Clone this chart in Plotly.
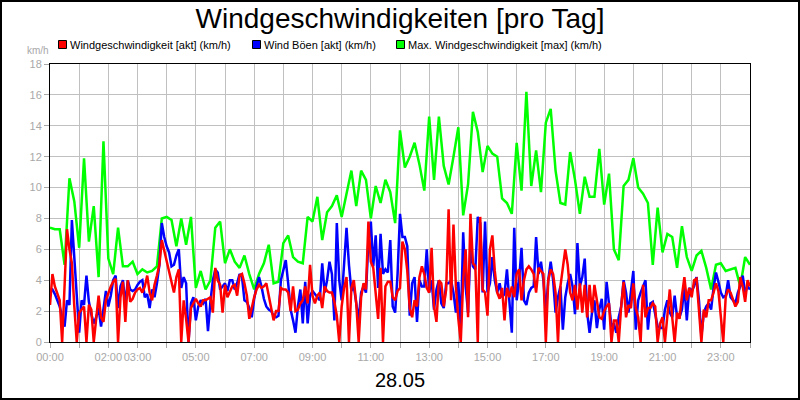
import plotly.graph_objects as go

# ---- data (km/h) ----
# Windgeschwindigkeit [akt], 5-minute values, one row per hour
wind_akt = [
    2.4, 4.4, 3.6, 3.2, 2.7, 0, 3.5, 7.3, 6.0, 5.1, 2.3, 0,
    1.9, 2.1, 2.3, 0, 2.4, 2.1, 0, 1.5, 3.0, 1.6, 1.3, 2.7,
    3.2, 3.6, 3.9, 4.1, 0, 2.9, 3.9, 1.3, 4.0, 2.6, 2.8, 3.2,
    3.4, 3.5, 3.2, 3.6, 4.3, 3.2, 2.7, 3.7, 4.3, 5.0, 6.6, 5.9,
    5.4, 4.7, 4.0, 3.2, 4.2, 4.7, 0, 2.7, 1.5, 0, 2.2, 2.5,
    2.8, 2.5, 2.3, 2.7, 2.7, 2.8, 2.9, 1.9, 4.8, 4.0, 3.7, 1.9,
    3.7, 2.9, 3.3, 3.6, 3.7, 3.0, 4.3, 4.4, 3.8, 3.0, 1.5, 2.3,
    2.9, 3.4, 3.7, 3.5, 3.6, 3.8, 3.0, 2.0, 1.4, 2.0, 2.0, 3.5,
    3.4, 3.4, 3.2, 2.0, 3.6, 2.0, 2.1, 2.5, 2.7, 3.6, 2.5, 5.0,
    3.0, 2.5, 3.0, 3.2, 2.2, 3.6, 3.3, 3.2, 3.2, 2.6, 1.7, 0,
    2.3, 3.5, 4.2, 0, 3.5, 4.0, 2.5, 0, 2.9, 3.8, 3.4, 7.8,
    5.2, 4.8, 3.0, 1.5, 4.8, 0, 3.6, 3.9, 3.9, 2.9, 2.7, 3.3,
    3.5, 6.5, 6.0, 4.6, 2.2, 1.6, 2.7, 2.3, 4.2, 4.9, 4.4, 3.5,
    3.2, 6.1, 2.3, 1.3, 4.0, 3.8, 2.3, 3.4, 8.6, 2.7, 7.6, 3.6,
    1.5, 0, 4.0, 6.0, 1.6, 8.3, 5.1, 4.9, 0, 8.1, 3.4, 3.2,
    1.7, 6.0, 6.9, 4.6, 3.2, 2.8, 3.5, 1.4, 3.5, 2.9, 3.6, 2.9,
    4.4, 4.7, 2.7, 4.0, 4.7, 4.9, 4.7, 4.4, 3.2, 4.8, 4.6, 4.4,
    0, 4.0, 4.7, 4.4, 3.2, 0, 3.6, 4.9, 6.0, 5.0, 3.2, 2.7,
    3.7, 2.1, 3.8, 1.9, 3.7, 1.6, 3.7, 1.9, 3.7, 2.7, 1.6, 1.5,
    2.0, 2.3, 2.5, 0, 1.4, 1.4, 0, 2.3, 3.9, 1.6, 2.4, 2.2,
    3.8, 2.2, 1.6, 0, 3.7, 1.6, 2.2, 2.2, 2.5, 2.3, 0, 1.2,
    1.6, 0, 1.6, 3.4, 1.6, 0, 1.9, 1.5, 3.0, 4.2, 2.7, 3.5,
    2.9, 4.0, 4.1, 2.3, 0, 2.1, 1.6, 2.7, 2.7, 3.2, 3.8, 3.3,
    1.6, 0, 2.9, 3.4, 3.2, 2.7, 2.3, 2.6, 4.2, 3.6, 2.6, 4.0,
    3.6,
]

# Wind Böen [akt], 5-minute values
wind_boeen = [
    3.3, 3.4, 3.1, 2.7, 2.3, 1.6, 1.0, 2.7, 2.4, 7.9, 5.3, 2.5,
    0.6, 2.7, 2.4, 4.3, 2.6, 1.8, 1.2, 1.6, 2.2, 1.0, 2.3, 3.3,
    2.3, 3.0, 4.0, 4.3, 2.2, 3.6, 4.0, 2.4, 4.0, 3.4, 3.3, 3.4,
    3.7, 3.9, 4.0, 2.9, 3.1, 2.2, 3.4, 2.9, 3.8, 5.0, 7.7, 6.8,
    6.2, 5.8, 4.9, 5.0, 5.6, 6.0, 3.5, 4.2, 3.8, 0, 2.5, 2.9,
    1.4, 2.3, 2.7, 2.5, 2.8, 0.7, 2.6, 4.0, 4.7, 4.5, 3.4, 3.6,
    3.8, 3.3, 4.0, 4.0, 3.4, 3.8, 4.4, 4.2, 2.7, 2.6, 2.2, 1.6,
    2.8, 3.6, 4.2, 3.6, 2.8, 2.3, 2.1, 2.0, 1.7, 1.6, 1.7, 4.0,
    4.7, 5.3, 3.8, 2.1, 1.4, 0.6, 2.3, 3.4, 1.2, 3.9, 1.2, 3.0,
    3.3, 3.1, 2.9, 2.7, 5.1, 3.2, 4.0, 5.2, 4.4, 1.4, 7.7, 4.0,
    2.7, 5.0, 7.4, 5.0, 3.3, 3.6, 2.5, 1.4, 3.2, 3.6, 3.2, 6.5,
    7.8, 4.9, 6.9, 3.5, 7.0, 4.4, 4.7, 4.5, 6.6, 2.3, 1.9, 4.4,
    8.3, 6.8, 6.8, 6.2, 1.7, 3.8, 4.2, 1.3, 4.0, 3.6, 3.6, 6.0,
    3.2, 4.0, 2.1, 3.4, 4.0, 2.5, 2.2, 3.8, 3.8, 4.0, 3.2, 1.9,
    3.9, 0.8, 7.1, 3.6, 1.9, 6.2, 4.9, 4.7, 8.1, 7.7, 3.2, 7.8,
    3.2, 3.8, 5.5, 4.0, 3.2, 3.8, 2.9, 3.1, 4.7, 2.7, 0.6, 7.4,
    2.7, 4.0, 6.1, 2.7, 2.4, 3.2, 3.5, 3.6, 6.8, 4.4, 5.2, 4.0,
    1.9, 4.0, 5.2, 4.0, 1.9, 2.9, 3.6, 0.8, 2.9, 3.8, 4.4, 3.6,
    1.8, 6.4, 3.6, 4.2, 5.4, 1.9, 0.6, 1.9, 2.7, 0.9, 2.1, 2.8,
    0.8, 3.9, 2.5, 1.0, 1.2, 0.6, 1.6, 2.3, 4.0, 3.2, 1.9, 3.2,
    4.6, 0.8, 2.7, 3.2, 3.6, 4.0, 0.8, 2.5, 2.6, 1.9, 1.0, 0.9,
    0.9, 2.1, 2.7, 1.9, 1.6, 3.0, 1.6, 1.6, 2.1, 3.6, 1.4, 3.5,
    3.3, 3.6, 4.2, 2.7, 0.4, 1.9, 2.3, 2.5, 2.1, 3.5, 4.5, 3.9,
    3.2, 2.9, 3.0, 4.0, 2.9, 2.7, 2.5, 3.2, 3.6, 4.3, 3.2, 3.6,
    3.4,
]

# Max. Windgeschwindigkeit [max], 10-minute values
wind_max = [
    7.4, 7.3, 7.3, 5.0, 10.6, 9.1,
    6.1, 11.9, 6.5, 8.8, 4.2, 13.0,
    5.4, 4.4, 7.4, 4.9, 4.9, 5.2,
    4.4, 4.7, 4.5, 4.6, 4.9, 8.0,
    8.1, 7.9, 6.2, 8.0, 6.3, 8.1,
    3.5, 4.6, 3.4, 4.0, 7.4, 7.8,
    5.1, 6.0, 5.2, 4.8, 5.6, 4.4,
    3.4, 4.4, 5.1, 6.3, 3.8, 3.9,
    6.4, 6.9, 5.5, 5.2, 5.1, 8.1,
    7.8, 9.4, 6.6, 8.4, 8.8, 9.5,
    8.1, 9.5, 11.1, 8.8, 11.1, 10.5,
    8.0, 10.1, 9.0, 10.5, 9.7, 7.7,
    13.7, 11.3, 12.0, 12.9, 11.5, 9.8,
    14.6, 10.5, 14.6, 11.4, 10.2, 12.0,
    13.9, 8.2, 10.2, 14.9, 13.6, 11.0,
    12.7, 12.2, 12.0, 9.3, 9.0, 8.3,
    12.9, 9.8, 16.2, 10.1, 12.4, 9.7,
    14.2, 15.1, 11.1, 9.0, 8.9, 12.3,
    10.5, 8.3, 10.7, 9.4, 9.4, 12.5,
    8.9, 10.9, 6.0, 5.3, 10.1, 10.5,
    11.9, 10.0, 9.6, 9.0, 5.0, 8.7,
    5.8, 7.0, 6.8, 4.8, 7.5, 5.5,
    4.6, 5.6, 5.9, 4.8, 3.4, 5.0,
    5.1, 4.6, 4.7, 4.8, 3.6, 5.5,
    5.0,
]

# time axis in hours of the day
t5 = [k / 12 for k in range(len(wind_akt))]
t10 = [k / 6 for k in range(len(wind_max))]

hour_ticks = list(range(25))
hour_labels = ["00:00", "", "02:00", "03:00", "", "05:00", "", "07:00", "", "09:00", "",
               "11:00", "", "13:00", "", "15:00", "", "17:00", "", "19:00", "", "21:00",
               "", "23:00", ""]
y_ticks = list(range(0, 19, 2))

series_names = ["Windgeschwindigkeit [akt] (km/h)", "Wind Böen [akt] (km/h)",
                "Max. Windgeschwindigkeit [max] (km/h)"]
series_colors = ["#ff0000", "#0000ff", "#00ff00"]

FONT = "Liberation Sans, Arial, sans-serif"
GREY = "#a8a8a8"

fig = go.Figure()
# lines (green behind, red on top)
fig.add_trace(go.Scatter(x=t10, y=wind_max, mode="lines", name=series_names[2],
                         line=dict(color=series_colors[2], width=2.5), showlegend=False))
fig.add_trace(go.Scatter(x=t5, y=wind_boeen, mode="lines", name=series_names[1],
                         line=dict(color=series_colors[1], width=2.5), showlegend=False))
fig.add_trace(go.Scatter(x=t5, y=wind_akt, mode="lines", name=series_names[0],
                         line=dict(color=series_colors[0], width=2.5), showlegend=False))

L, R, T, B = 50, 50, 64, 58
PW, PH = 800 - L - R, 400 - T - B

def px(xp):
    return (xp - L) / PW

def py(yp):
    return (400 - B - yp) / PH

# legend row (swatch + label), placed along the top
legend_x = [58, 252, 396]
shapes = []
annotations = []
for name, col, lx in zip(series_names, series_colors, legend_x):
    shapes.append(dict(type="rect", xref="paper", yref="paper",
                       x0=px(lx + 0.5), x1=px(lx + 8.5), y0=py(48.5), y1=py(40.5),
                       line=dict(color="black", width=1), fillcolor=col, layer="above"))
    annotations.append(dict(text=name, xref="paper", yref="paper", x=px(lx + 10), y=py(45),
                            xanchor="left", yanchor="middle", showarrow=False,
                            font=dict(family=FONT, size=11, color="black")))

annotations += [
    dict(text="km/h", xref="paper", yref="paper", x=px(38), y=py(50),
         xanchor="center", yanchor="middle", showarrow=False,
         font=dict(family=FONT, size=10, color=GREY)),
    dict(text="28.05", xref="paper", yref="paper", x=0.5, y=py(380),
         xanchor="center", yanchor="middle", showarrow=False,
         font=dict(family=FONT, size=20, color="black")),
]
shapes.append(dict(type="rect", xref="paper", yref="paper", x0=px(1), x1=px(799),
                   y0=py(399), y1=py(1), line=dict(color="black", width=2),
                   fillcolor="rgba(0,0,0,0)", layer="above"))

fig.update_layout(
    width=800, height=400,
    margin=dict(l=L, r=R, t=T, b=B, pad=0),
    paper_bgcolor="white", plot_bgcolor="white",
    font=dict(family=FONT, size=11, color="black"),
    showlegend=False,
    title=dict(text="Windgeschwindigkeiten [pro Tag]", x=0.5, xanchor="center",
               y=1 - 18 / 400, yanchor="middle",
               font=dict(family=FONT, size=28, color="black")),
    xaxis=dict(range=[0, 24], tickmode="array", tickvals=hour_ticks, ticktext=hour_labels,
               tickangle=0, ticks="outside", ticklen=5, tickcolor=GREY, tickwidth=1,
               tickfont=dict(family=FONT, size=11, color=GREY),
               showgrid=True, gridcolor="#c0c0c0", gridwidth=1,
               showline=True, linecolor="black", linewidth=1, mirror=True, zeroline=False),
    yaxis=dict(range=[0, 18], tickmode="array", tickvals=y_ticks,
               ticks="outside", ticklen=5, tickcolor=GREY, tickwidth=1,
               tickfont=dict(family=FONT, size=11, color=GREY),
               showgrid=True, gridcolor="#c0c0c0", gridwidth=1,
               showline=True, linecolor="black", linewidth=1, mirror=True, zeroline=False),
    annotations=annotations,
    shapes=shapes,
)

fig.write_html("out.html")
